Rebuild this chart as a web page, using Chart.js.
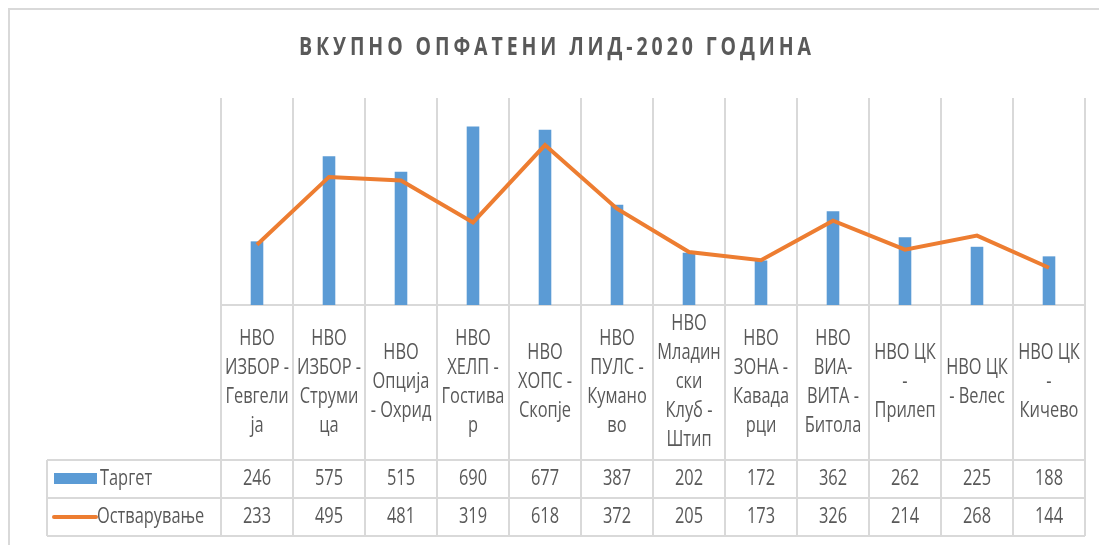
<!DOCTYPE html>
<html lang="mk">
<head>
<meta charset="utf-8">
<title>ВКУПНО ОПФАТЕНИ ЛИД-2020 ГОДИНА</title>
<script src="https://cdn.jsdelivr.net/npm/chart.js@4/dist/chart.umd.min.js"></script>
<style>
  html, body { margin: 0; padding: 0; background: #fff; }
  #wrap { width: 1099px; height: 545px; }
</style>
</head>
<body>
<div id="wrap"><canvas id="leadChart" width="1099" height="545"></canvas></div>
<script>
// ═══════════════════════════════════════════════════════
// DATA
// ═══════════════════════════════════════════════════════
const chartTitle = 'ВКУПНО ОПФАТЕНИ ЛИД-2020 ГОДИНА';

// category labels, wrapped the way the table header wraps them
const categories = [
  ['НВО', 'ИЗБОР -', 'Гевгели', 'ја'],
  ['НВО', 'ИЗБОР -', 'Струми', 'ца'],
  ['НВО', 'Опција', '- Охрид'],
  ['НВО', 'ХЕЛП -', 'Гостива', 'р'],
  ['НВО', 'ХОПС -', 'Скопје'],
  ['НВО', 'ПУЛС -', 'Кумано', 'во'],
  ['НВО', 'Младин', 'ски', 'Клуб -', 'Штип'],
  ['НВО', 'ЗОНА -', 'Кавада', 'рци'],
  ['НВО', 'ВИА-', 'ВИТА -', 'Битола'],
  ['НВО ЦК', '-', 'Прилеп'],
  ['НВО ЦК', '- Велес'],
  ['НВО ЦК', '-', 'Кичево']
];

const targetLabel = 'Таргет';
const targetValues = [246, 575, 515, 690, 677, 387, 202, 172, 362, 262, 225, 188];

const achievedLabel = 'Остварување';
const achievedValues = [233, 495, 481, 319, 618, 372, 205, 173, 326, 214, 268, 144];

// ═══════════════════════════════════════════════════════
// STYLE
// ═══════════════════════════════════════════════════════
const BLUE = '#5B9BD5';
const ORANGE = '#ED7D31';
const GRID = '#d9d9d9';
const TEXT = '#595959';
const FONT = "'Open Sans', 'Noto Sans', sans-serif";
const SX = 0.78;        // horizontal squeeze so the text looks like the narrow original

const HEADER_H = 155;   // height of the category header band under the plot
const ROW_H = 38;       // height of one data row
const TABLE_LEFT = 47;
const LINE_GAP = 29;

// draw text squeezed horizontally around its anchor point
function squeezedText(ctx, text, x, y) {
  ctx.save();
  ctx.translate(x, y);
  ctx.scale(SX, 1);
  ctx.fillText(text, 0, 0);
  ctx.restore();
}

// ─────────────────────────────────────────────────────
// Plugin: frame, title and data table under the plot
// ─────────────────────────────────────────────────────
const dataTablePlugin = {
  id: 'dataTable',
  beforeDraw(chart) {
    const ctx = chart.ctx;
    ctx.save();
    ctx.strokeStyle = GRID;
    ctx.lineWidth = 2;
    ctx.strokeRect(9, 9, chart.width + 40, chart.height + 40);

    ctx.fillStyle = TEXT;
    ctx.font = `bold 25px ${FONT}`;
    ctx.letterSpacing = '5px';
    ctx.textAlign = 'center';
    ctx.textBaseline = 'middle';
    squeezedText(ctx, chartTitle, 557, 48);
    ctx.restore();
  },
  afterDraw(chart) {
    const { ctx, chartArea: area, scales: { x } } = chart;
    const n = categories.length;
    const colW = x.getPixelForValue(1) - x.getPixelForValue(0);
    const edges = [];
    for (let i = 0; i <= n; i++) edges.push(x.getPixelForValue(0) - colW / 2 + i * colW);

    const headTop = area.bottom;
    const headBot = headTop + HEADER_H;
    const row1 = headBot + ROW_H;
    const row2 = row1 + ROW_H;

    ctx.save();
    ctx.strokeStyle = GRID;
    ctx.lineWidth = 2;

    // vertical column lines through header + rows
    edges.forEach(ex => {
      ctx.beginPath();
      ctx.moveTo(ex, headTop);
      ctx.lineTo(ex, row2);
      ctx.stroke();
    });
    // left edge of the legend column
    ctx.beginPath();
    ctx.moveTo(TABLE_LEFT, headBot);
    ctx.lineTo(TABLE_LEFT, row2);
    ctx.stroke();
    // horizontal row lines
    [headBot, row1, row2].forEach(yy => {
      ctx.beginPath();
      ctx.moveTo(TABLE_LEFT, yy);
      ctx.lineTo(edges[n], yy);
      ctx.stroke();
    });

    // header labels, centred in the band
    ctx.fillStyle = TEXT;
    ctx.font = `21px ${FONT}`;
    ctx.textAlign = 'center';
    ctx.textBaseline = 'middle';
    const midHead = (headTop + headBot) / 2;
    categories.forEach((lines, i) => {
      const cx = x.getPixelForValue(i);
      const y0 = midHead - (lines.length - 1) * LINE_GAP / 2;
      lines.forEach((t, j) => squeezedText(ctx, t, cx, y0 + j * LINE_GAP));
    });

    // values
    const mid1 = (headBot + row1) / 2;
    const mid2 = (row1 + row2) / 2;
    targetValues.forEach((v, i) => squeezedText(ctx, String(v), x.getPixelForValue(i), mid1));
    achievedValues.forEach((v, i) => squeezedText(ctx, String(v), x.getPixelForValue(i), mid2));

    // legend keys in the first column
    ctx.fillStyle = BLUE;
    ctx.fillRect(TABLE_LEFT + 7, mid1 - 6, 43, 11);
    ctx.strokeStyle = ORANGE;
    ctx.lineWidth = 4;
    ctx.lineCap = 'round';
    ctx.beginPath();
    ctx.moveTo(TABLE_LEFT + 7, mid2);
    ctx.lineTo(TABLE_LEFT + 49, mid2);
    ctx.stroke();

    ctx.fillStyle = TEXT;
    ctx.textAlign = 'left';
    squeezedText(ctx, targetLabel, TABLE_LEFT + 53, mid1);
    squeezedText(ctx, achievedLabel, TABLE_LEFT + 50, mid2);
    ctx.restore();
  }
};

// ─────────────────────────────────────────────────────
// CHART
// ─────────────────────────────────────────────────────
const ctx = document.getElementById('leadChart').getContext('2d');
new Chart(ctx, {
  type: 'bar',
  data: {
    labels: categories,
    datasets: [
      {
        type: 'line',
        label: achievedLabel,
        data: achievedValues,
        borderColor: ORANGE,
        backgroundColor: ORANGE,
        borderWidth: 4,
        pointRadius: 0,
        tension: 0,
        order: 0
      },
      {
        type: 'bar',
        label: targetLabel,
        data: targetValues,
        backgroundColor: BLUE,
        categoryPercentage: 1,
        barPercentage: 0.175,
        order: 1
      }
    ]
  },
  options: {
    responsive: false,
    animation: false,
    devicePixelRatio: 1,
    layout: { padding: { left: 221, right: 14, top: 98, bottom: 240 } },
    scales: {
      x: {
        offset: true,
        grid: { display: true, offset: true, color: GRID, lineWidth: 2, drawTicks: false },
        border: { display: true, color: GRID, width: 2 },
        ticks: { display: false }
      },
      y: {
        display: false,
        min: 0,
        max: 800
      }
    },
    plugins: {
      legend: { display: false },
      tooltip: { enabled: false },
      title: { display: false }
    }
  },
  plugins: [dataTablePlugin]
});
</script>
</body>
</html>
